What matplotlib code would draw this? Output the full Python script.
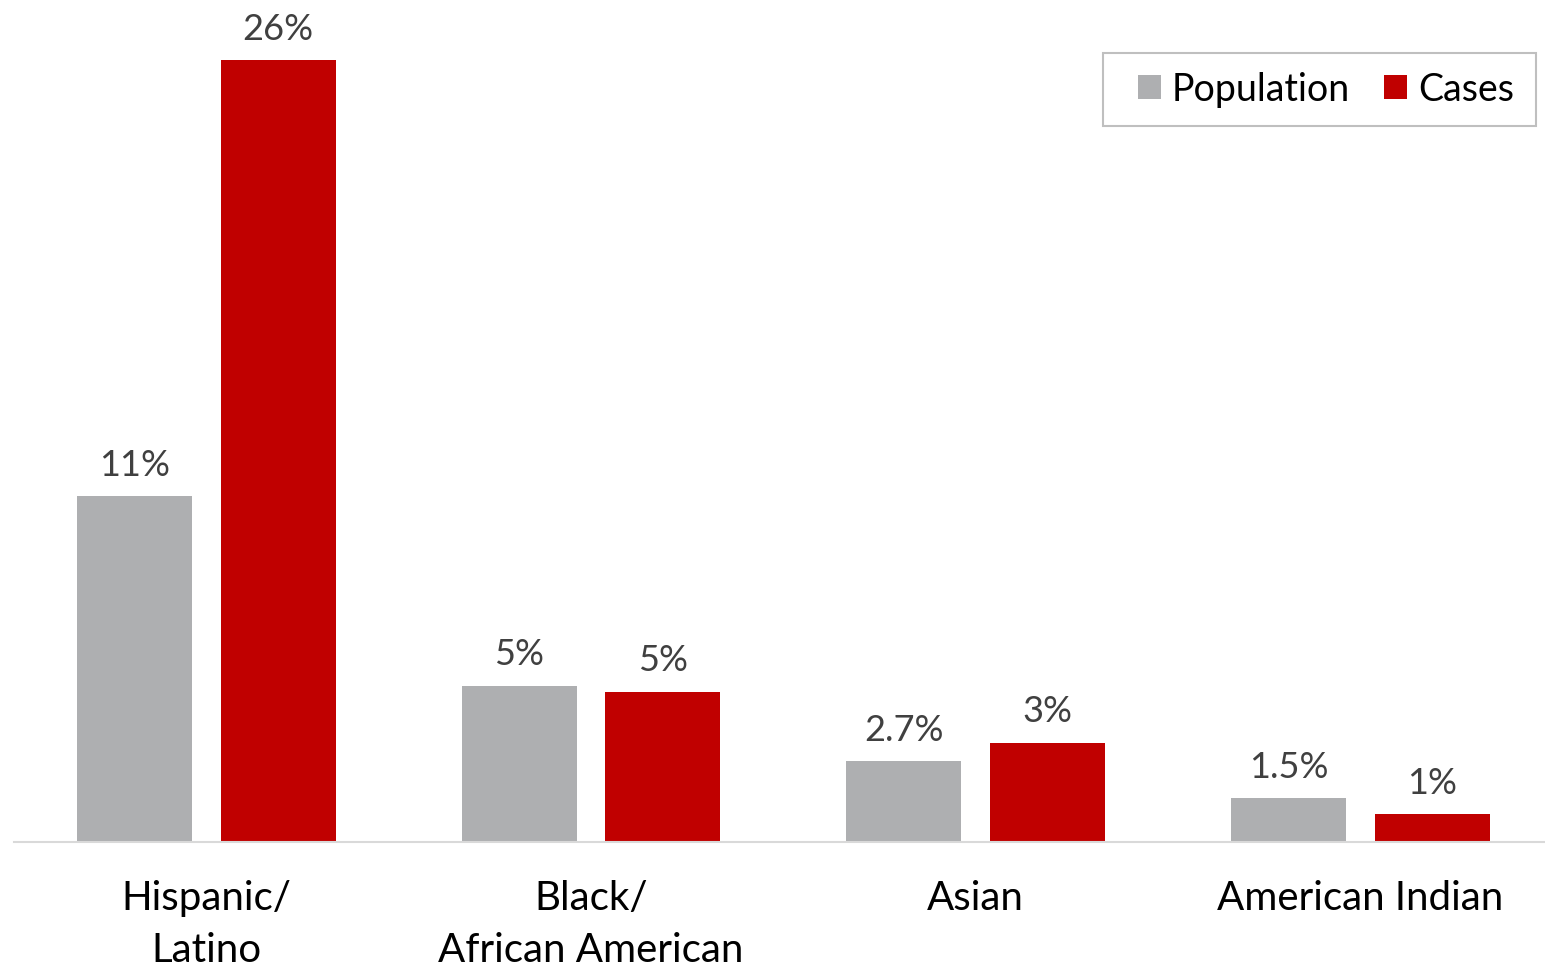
import matplotlib
matplotlib.use("Agg")
import matplotlib.pyplot as plt
from matplotlib.patches import Rectangle
import numpy as np

categories = ["Hispanic/\nLatino", "Black/\nAfrican American", "Asian", "American Indian"]
population = [11.5, 5.2, 2.7, 1.45]
cases = [26.0, 5.0, 3.3, 0.93]
pop_labels = ["11%", "5%", "2.7%", "1.5%"]
case_labels = ["26%", "5%", "3%", "1%"]

plt.rcParams['font.family'] = ['Lato', 'DejaVu Sans']

W, H = 1545, 970
fig = plt.figure(figsize=(W/100, H/100), dpi=100)
ax = fig.add_axes([14/W, 127/H, 1 - 14/W, 843/H])

x = np.arange(len(categories))
w = 0.299
off = 0.187
grey = "#AEAFB1"
red = "#C00000"
b1 = ax.bar(x - off, population, w, color=grey, label="Population")
b2 = ax.bar(x + off, cases, w, color=red, label="Cases")

for bars, labs in ((b1, pop_labels), (b2, case_labels)):
    for r, t in zip(bars, labs):
        ax.annotate(t, (r.get_x() + r.get_width()/2, r.get_height()),
                    xytext=(0, 11), textcoords="offset points",
                    ha="center", va="bottom", fontsize=26, color="#404040")

ax.set_xlim(-0.5, 3.48)
ax.set_ylim(0, 28.03)
ax.set_xticks(x)
ax.set_xticklabels(categories, fontsize=29, linespacing=1.5)
ax.tick_params(axis="x", length=0, pad=27)
ax.set_yticks([])
for s in ["left", "right", "top"]:
    ax.spines[s].set_visible(False)
ax.spines["bottom"].set_color("#D9D9D9")
ax.spines["bottom"].set_linewidth(1.5)

# legend frame drawn separately (Excel-style wide padding)
fig.patches.append(Rectangle((1103/W, 1 - 127/H), (1536-1103)/W, (127-54)/H,
                             transform=fig.transFigure, fill=False,
                             edgecolor="#BFBFBF", linewidth=1.5))
leg = fig.legend(handles=[b1, b2], loc="center", bbox_to_anchor=(1326/W, 1 - 90/H),
                 ncol=2, fontsize=27, frameon=False,
                 handlelength=0.6, handleheight=0.6,
                 handletextpad=0.3, columnspacing=0.9, borderpad=0.0)

fig.savefig("out.png", dpi=100)
